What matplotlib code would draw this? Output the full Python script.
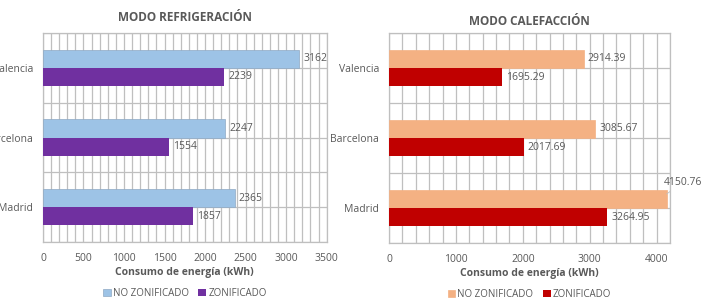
import matplotlib.pyplot as plt
import numpy as np

ciudades = ['Valencia', 'Barcelona', 'Madrid']
refrig_no_zon = [3162, 2247, 2365]
refrig_zon = [2239, 1554, 1857]
calef_no_zon = [2914.39, 3085.67, 4150.76]
calef_zon = [1695.29, 2017.69, 3264.95]

gris = '#595959'
plt.rcParams['font.family'] = ['Open Sans', 'DejaVu Sans']
plt.rcParams['text.color'] = gris

fig = plt.figure(figsize=(7.04, 3.0), dpi=100)
ax1 = fig.add_axes([0.061, 0.193, 0.403, 0.697])
ax2 = fig.add_axes([0.5526, 0.19, 0.399, 0.70])

def draw_panel(ax, no_zon, zon, c1, c2, xmax, major, minor, fmt, title, tpad):
    y = np.arange(len(ciudades))
    h = 0.26
    ax.barh(y - h / 2, no_zon, height=h, color=c1, edgecolor='#8FA9C4' if c1 == '#9DC3E6' else c1,
            linewidth=0.5, zorder=3, label='NO ZONIFICADO')
    ax.barh(y + h / 2, zon, height=h, color=c2, zorder=3, label='ZONIFICADO')
    ax.set_ylim(2.5, -0.5)
    ax.set_xlim(0, xmax)
    ax.set_yticks(y)
    ax.set_yticklabels(ciudades)
    ax.set_yticks(np.arange(-0.5, 2.6, 0.5), minor=True)
    ax.set_xticks(np.arange(0, xmax + 1, major))
    ax.set_xticks(np.arange(0, xmax + 1, minor), minor=True)
    ax.grid(True, which='both', color='#BFBFBF', linewidth=0.9, zorder=0)
    ax.tick_params(which='both', length=0, labelsize=7.5, colors=gris)
    ax.tick_params(axis='y', pad=7)
    ax.tick_params(axis='x', pad=8)
    for s in ax.spines.values():
        s.set_color('#BFBFBF')
        s.set_linewidth(0.9)
    ax.set_xlabel('Consumo de energía (kWh)', fontsize=7.5, fontweight='bold', color=gris, labelpad=2)
    ax.set_title(title, fontsize=8.5, fontweight='bold', color=gris, pad=tpad)
    for i in range(len(ciudades)):
        ax.text(no_zon[i] + xmax * 0.014, y[i] - h / 2, fmt.format(no_zon[i]), va='center', fontsize=7.5, color=gris, zorder=4)
        ax.text(zon[i] + xmax * 0.014, y[i] + h / 2, fmt.format(zon[i]), va='center', fontsize=7.5, color=gris, zorder=4)
    ax.legend(loc='center', bbox_to_anchor=(0.5, -0.245), ncol=2, frameon=False,
              fontsize=7, handlelength=0.8, handleheight=0.8, handletextpad=0.2, columnspacing=1.0)

draw_panel(ax1, refrig_no_zon, refrig_zon, '#9DC3E6', '#7030A0', 3500, 500, 100, '{:.0f}', 'MODO REFRIGERACIÓN', 9)
draw_panel(ax2, calef_no_zon, calef_zon, '#F4B183', '#C00000', 4200, 1000, 200, '{:.2f}', 'MODO CALEFACCIÓN', 6)

# etiqueta de Madrid con línea guía
for t in ax2.texts:
    if t.get_text() == '4150.76':
        t.remove()
ax2.annotate('4150.76', xy=(calef_no_zon[2], 2 - 0.2), xytext=(4110, 1.63),
             fontsize=7.5, color=gris, va='center', ha='left', annotation_clip=False,
             arrowprops=dict(arrowstyle='-', color='#BFBFBF', lw=0.6, shrinkA=1, shrinkB=0))
ax2.set_xticks(np.arange(0, 4001, 1000))

fig.savefig('out.png', dpi=100)
